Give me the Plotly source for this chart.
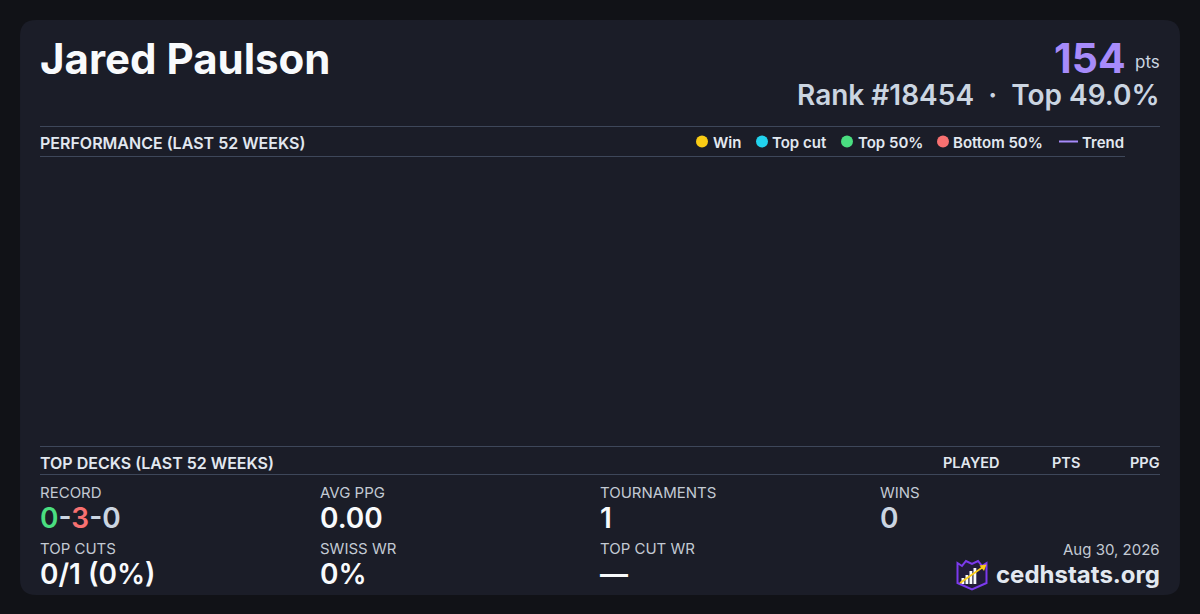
import plotly.graph_objects as go

W, H = 1200, 614

# ---------------- data ----------------
player_name = "Jared Paulson"
total_points = 154
rank = 18454
top_percent = 49.0

legend_labels = ["Win", "Top cut", "Top 50%", "Bottom 50%", "Trend"]
legend_colors = ["#facc15", "#22d3ee", "#4ade80", "#f87171", "#a78bfa"]

perf_weeks = []       # no placements plotted in the 52-week window
perf_points = []
trend_points = []

deck_columns = ["PLAYED", "PTS", "PPG"]

record = [0, 3, 0]
avg_ppg = 0.00
tournaments = 1
wins = 0
top_cuts = 0
top_cut_total = 1
swiss_wr = 0
top_cut_wr = None
date_label = "Aug 30, 2026"
site = "cedhstats.org"

# ---------------- styling ----------------
PAGE_BG = "#111217"
CARD_BG = "#1b1d28"
RULE = "#3e475a"
WHITE = "#f8fafc"
LIGHT = "#e2e8f0"
GRAY = "#cbd5e1"
LABEL = "#c3cad4"
FONT = "Inter"


def px(x):
    return x / W


def py(y):
    return 1 - y / H


annotations = []
shapes = []


def ann(text, x, y, size, color, weight=400, xanchor="left", yanchor="middle", height=None):
    d = dict(
        text=text, x=px(x), y=py(y), xref="paper", yref="paper",
        xanchor=xanchor, yanchor=yanchor, showarrow=False,
        borderpad=0, borderwidth=0,
        font=dict(family=FONT, size=size, color=color, weight=weight))
    if height is not None:
        d["height"] = height
        d["valign"] = "middle"
    annotations.append(d)


def path_px(cmds):
    out = []
    for c in cmds:
        if isinstance(c, str):
            out.append(c)
        else:
            out.append(f"{px(c[0]):.5f},{py(c[1]):.5f}")
    return " ".join(out)


def hline(x0, x1, y, color=RULE, width=1):
    shapes.append(dict(type="line", xref="paper", yref="paper",
                       x0=px(x0), x1=px(x1), y0=py(y), y1=py(y),
                       line=dict(color=color, width=width)))


# card
r = 16
x0, y0, x1, y1 = 20, 20, 1180, 595
card = path_px(["M", (x0 + r, y0), "L", (x1 - r, y0), "Q", (x1, y0), (x1, y0 + r),
                "L", (x1, y1 - r), "Q", (x1, y1), (x1 - r, y1),
                "L", (x0 + r, y1), "Q", (x0, y1), (x0, y1 - r),
                "L", (x0, y0 + r), "Q", (x0, y0), (x0 + r, y0), "Z"])
shapes.append(dict(type="path", xref="paper", yref="paper", path=card,
                   fillcolor=CARD_BG, line=dict(width=0), layer="below"))

# header
ann(f"<b>{player_name}</b>", 40, 58, 42, WHITE, 700)
ann(f"{total_points}", 1126, 57.5, 41, "#a78bfa", 700, xanchor="right", height=38)
ann("pts", 1160, 62, 17, GRAY, 400, xanchor="right")
ann(f"Rank #{rank}  ·  Top {top_percent:.1f}%", 1160, 95.5, 28, GRAY, 600,
    xanchor="right", height=36)

# performance section
hline(40, 1160, 126.5)
hline(40, 1125, 156.5)
ann("PERFORMANCE (LAST 52 WEEKS)", 40, 142.5, 16, LIGHT, 600)

legend_circle_x = [702, 762, 847, 943]
legend_text_x = [713, 772, 858, 953, 1082]
for i, (lab, col) in enumerate(zip(legend_labels, legend_colors)):
    if lab == "Trend":
        shapes.append(dict(type="line", xref="paper", yref="paper",
                           x0=px(1059), x1=px(1078), y0=py(141.5), y1=py(141.5),
                           line=dict(color=col, width=2)))
    else:
        cx = legend_circle_x[i]
        shapes.append(dict(type="circle", xref="paper", yref="paper",
                           x0=px(cx - 6), x1=px(cx + 6), y0=py(135.5), y1=py(147.5),
                           fillcolor=col, line=dict(width=0)))
    ann(lab, legend_text_x[i], 142, 15, LIGHT, 600)

# top decks section
hline(40, 1160, 446.5)
hline(40, 1160, 474.5)
ann("TOP DECKS (LAST 52 WEEKS)", 40, 462.5, 16, LIGHT, 600)
for lab, xr in zip(deck_columns, [1000, 1080, 1160]):
    ann(lab, xr, 462.5, 14.5, LIGHT, 600, xanchor="right")

# stats
rec_txt = (f"<span style='color:#4ade80'>{record[0]}</span>"
           f"<span style='color:{GRAY}'>-</span>"
           f"<span style='color:#f87171'>{record[1]}</span>"
           f"<span style='color:{GRAY}'>-{record[2]}</span>")
stats_row1 = [("RECORD", rec_txt, WHITE), ("AVG PPG", f"{avg_ppg:.2f}", WHITE),
              ("TOURNAMENTS", f"{tournaments}", WHITE), ("WINS", f"{wins}", GRAY)]
pct = 0 if top_cut_total == 0 else round(100 * top_cuts / top_cut_total)
stats_row2 = [("TOP CUTS", f"{top_cuts}/{top_cut_total} ({pct}%)", WHITE),
              ("SWISS WR", f"{swiss_wr}%", WHITE),
              ("TOP CUT WR", "—" if top_cut_wr is None else f"{top_cut_wr}%", WHITE)]
col_x = [40, 320, 600, 880]
for (lab, val, vc), cx in zip(stats_row1, col_x):
    ann(lab, cx, 492, 15, LABEL, 400)
    ann(val, cx, 517.5, 28, vc, 600)
for (lab, val, vc), cx in zip(stats_row2, col_x):
    ann(lab, cx, 548, 15, LABEL, 400)
    ann(val, cx, 574, 28, vc, 600)

# footer
ann(date_label, 1160, 549.5, 15, LABEL, 400, xanchor="right")
ann(site, 1160, 574, 24, LIGHT, 700, xanchor="right")

# logo
shield = path_px(["M", (957.5, 563), "L", (962, 566), "L", (966, 561), "L", (972, 564),
                  "L", (978, 561), "L", (982, 566), "L", (986.5, 563),
                  "L", (986.5, 583), "L", (972, 589.5), "L", (957.5, 583), "Z"])
shapes.append(dict(type="path", xref="paper", yref="paper", path=shield,
                   fillcolor="#221c3a", line=dict(color="#7c3aed", width=2)))
for bx, top in [(961.5, 578), (965.5, 575), (969.5, 571), (973.5, 568)]:
    shapes.append(dict(type="rect", xref="paper", yref="paper",
                       x0=px(bx), x1=px(bx + 2.8), y0=py(584), y1=py(top),
                       fillcolor="#f8fafc", line=dict(width=0)))
shapes.append(dict(type="line", xref="paper", yref="paper",
                   x0=px(960), y0=py(583), x1=px(983), y1=py(567),
                   line=dict(color="#facc15", width=1.8)))
arrow = path_px(["M", (986.5, 564.5), "L", (979.5, 565.5), "L", (984, 571), "Z"])
shapes.append(dict(type="path", xref="paper", yref="paper", path=arrow,
                   fillcolor="#facc15", line=dict(width=0)))

# ---------------- figure ----------------
fig = go.Figure()
fig.add_trace(go.Scatter(x=perf_weeks, y=perf_points, mode="markers",
                         marker=dict(size=8, color=legend_colors[0]),
                         showlegend=False, hoverinfo="skip"))
fig.add_trace(go.Scatter(x=perf_weeks, y=trend_points, mode="lines",
                         line=dict(color=legend_colors[4], width=2),
                         showlegend=False, hoverinfo="skip"))

fig.update_layout(
    width=W, height=H,
    margin=dict(l=0, r=0, t=0, b=0),
    paper_bgcolor=PAGE_BG, plot_bgcolor="rgba(0,0,0,0)",
    xaxis=dict(domain=[px(40), px(1160)], visible=False, fixedrange=True),
    yaxis=dict(domain=[py(440), py(162)], visible=False, fixedrange=True),
    shapes=shapes, annotations=annotations,
    showlegend=False,
)

fig.write_html(
    "out.html",
    config=dict(displayModeBar=False),
    post_script="document.body.style.margin='0';document.body.style.background='" + PAGE_BG + "';",
)
